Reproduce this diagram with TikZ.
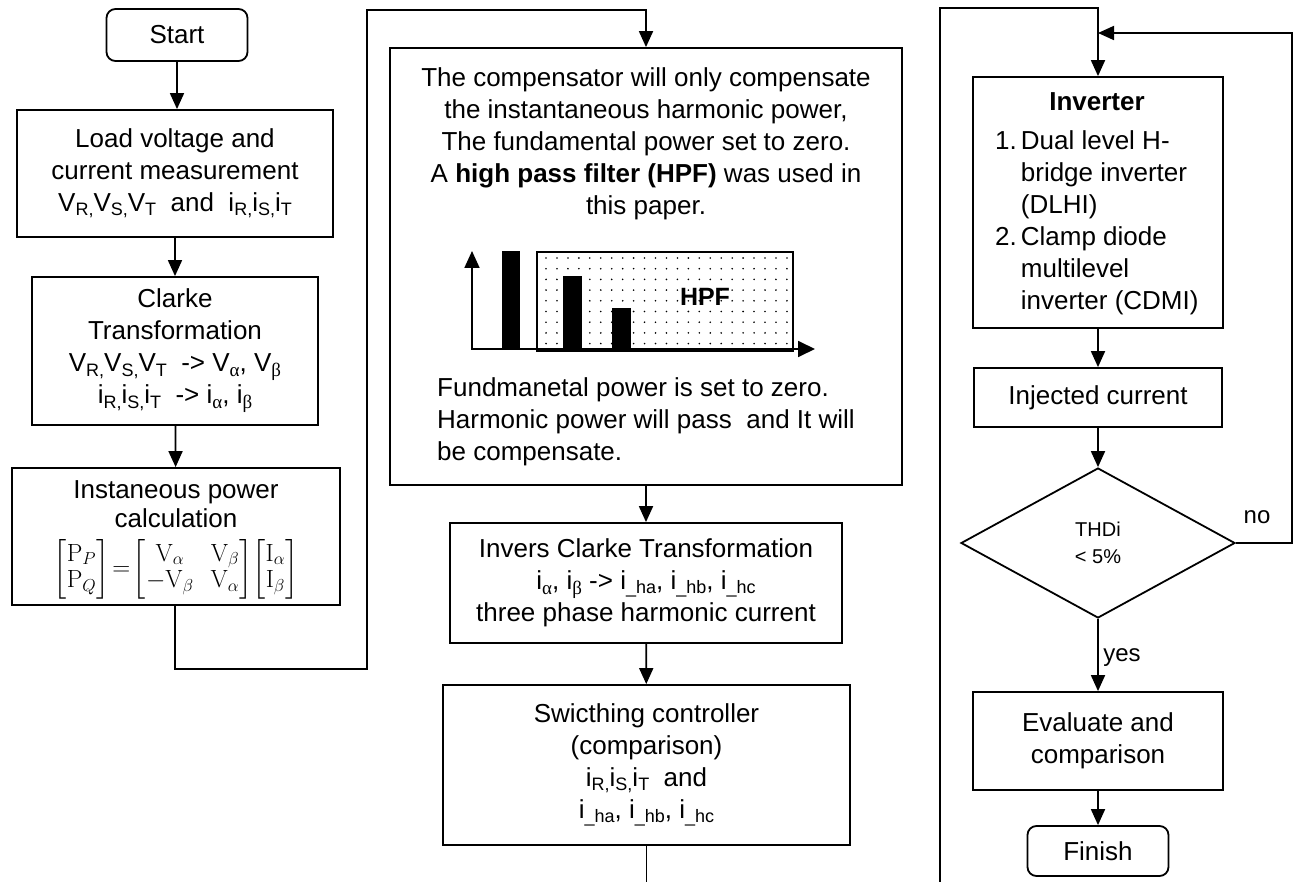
\RequirePackage{fix-cm}
\documentclass[tikz,border=0pt]{standalone}
\usepackage{amsmath}
\usepackage[no-math]{fontspec}
\setmainfont{Liberation Sans}
\newfontfamily\grk{Liberation Serif}
\usetikzlibrary{arrows.meta,shapes.geometric}
\newcommand{\lowr}[1]{\raisebox{-0.3ex}{\fontsize{18}{18}\selectfont #1}}
\newcommand{\gsub}[1]{\raisebox{-0.35ex}{\fontsize{19}{19}\selectfont\grk #1}}
\newcommand{\pqmatrix}{{\fontsize{20.74}{25}\selectfont\scalebox{1.2}{\setlength{\arraycolsep}{7pt}\renewcommand{\arraystretch}{0.88}$\begin{bmatrix}\mathrm{P}_{P}\\ \mathrm{P}_{Q}\end{bmatrix}\!=\!\begin{bmatrix}\mathrm{V}_{\alpha} & \mathrm{V}_{\beta}\\ -\mathrm{V}_{\beta} & \mathrm{V}_{\alpha}\end{bmatrix}\!\begin{bmatrix}\mathrm{I}_{\alpha}\\ \mathrm{I}_{\beta}\end{bmatrix}$}}}
\begin{document}
\begin{tikzpicture}[x=1pt,y=-1pt,
  box/.style={draw, line width=1.8pt, inner sep=0pt, align=center, font=\fontsize{26}{32}\selectfont},
  rbox/.style={box, rounded corners=9pt},
  conn/.style={draw, line width=1.8pt, -{Triangle[length=16pt,width=14pt]}},
  plainline/.style={draw, line width=1.8pt},
  txt/.style={inner sep=0pt, font=\fontsize{26}{32}\selectfont},
  lbl/.style={inner sep=0pt, font=\fontsize{24}{28}\selectfont}]
\useasboundingbox (0,0) rectangle (1299,882);
% left column
\node[rbox, minimum width=141, minimum height=52] (start) at (177,35) {Start};
\node[box, minimum width=316, minimum height=127] (load) at (175,173.5)
  {Load voltage and\\current measurement\\V\lowr{R,}V\lowr{S,}V\lowr{T}\ \ and\ \ i\lowr{R,}i\lowr{S,}i\lowr{T}};
\node[box, minimum width=286, minimum height=148] (clarke) at (175,351)
  {Clarke\\Transformation\\V\lowr{R,}V\lowr{S,}V\lowr{T}\ \ -> V\gsub{α}, V\gsub{β}\\i\lowr{R,}i\lowr{S,}i\lowr{T}\ \ -> i\gsub{α}, i\gsub{β}};
\node[box, minimum width=328, minimum height=137] (inst) at (176,536.5) {};
\node[inner sep=0pt, align=center, font=\fontsize{26}{29}\selectfont] (instt) at (176,540)
  {Instaneous power\\calculation\\[10pt]\pqmatrix};
\coordinate (c1) at (367,669);
\coordinate (c2) at (367,10);
% middle column
\node[box, minimum width=512, minimum height=437] (comp) at (646,266.5) {};
\node[txt, align=center] (ctop) at (646,144)
  {The compensator will only compensate\\the instantaneous harmonic power,\\The fundamental power set to zero.\\A \textbf{high pass filter (HPF)} was used in\\this paper.};
\node[txt, align=left, anchor=west] (cbot) at (437,422)
  {Fundmanetal power is set to zero.\\Harmonic power will pass\ \ and It will\\be compensate.};
% HPF chart
\fill[white] (537,252) rectangle (793,351);
\foreach \i in {0,...,22} {
  \foreach \j in {0,...,8} {
    \fill ({546+\i*10.95},{258+\j*10.7}) circle (0.9);
  }
}
\draw[line width=1.8pt] (537,252) rectangle (793,351);
\fill (502,251) rectangle (520,349);
\fill (563,276) rectangle (582,349);
\fill (612,308) rectangle (631,349);
\draw[line width=1.8pt, -{Triangle[length=17pt,width=15pt]}] (472,349) -- (472,251);
\draw[line width=1.8pt, -{Triangle[length=17pt,width=16pt]}] (471,349) -- (815,349);
\node[inner sep=0pt, font=\fontsize{25}{30}\selectfont\bfseries] (hpf) at (705,297) {HPF};
\node[box, minimum width=392, minimum height=120] (invc) at (646,583)
  {Invers Clarke Transformation\\i\gsub{α}, i\gsub{β} -> i\lowr{\_ha}, i\lowr{\_hb}, i\lowr{\_hc}\\three phase harmonic current};
\node[box, minimum width=407, minimum height=160] (sw) at (646.5,765)
  {Swicthing controller\\(comparison)\\i\lowr{R,}i\lowr{S,}i\lowr{T}\ \ and\\i\lowr{\_ha}, i\lowr{\_hb}, i\lowr{\_hc}};
\coordinate (c3) at (646.5,882);
% right column
\coordinate (c4) at (940,882);
\coordinate (c5) at (940,8);
\node[box, minimum width=250, minimum height=251] (inv) at (1098,202.5) {};
\node[txt] (invt) at (1097,102) {\textbf{Inverter}};
\node[txt, anchor=north west, align=left] (invl) at (995,127)
  {\begin{tabular}{@{}l@{\hspace{4pt}}l@{}}1. & Dual level H-\\ & bridge inverter\\ & (DLHI)\\ 2. & Clamp diode\\ & multilevel\\ & inverter (CDMI)\end{tabular}};
\node[box, minimum width=248, minimum height=59] (inj) at (1098,397.5) {Injected current};
\node[draw, diamond, line width=1.8pt, inner sep=0pt, minimum width=274, minimum height=150, align=center, font=\fontsize{20}{27}\selectfont] (dia) at (1098,543) {THDi\\< 5\%};
\node[box, minimum width=250, minimum height=98] (eval) at (1098,741) {Evaluate and\\comparison};
\node[rbox, minimum width=141, minimum height=50] (fin) at (1098,851) {Finish};
\coordinate (c7) at (1292,33);
\coordinate (j) at (1098,33);
\node[lbl] (no) at (1257,517) {no};
\node[lbl] (yes) at (1122,658) {yes};
% connectors
\draw[conn] (start.south) -- (start.south |- load.north);
\draw[conn] (load) -- (clarke);
\draw[conn] (clarke) -- (inst);
\draw[conn] (inst.south -| clarke.south) |- (c1) -- (c2) -| (comp.north);
\draw[conn] (comp) -- (invc);
\draw[conn] (invc) -- (sw);
\draw[plainline] (sw.south) -- (c3);
\draw[conn] (c4) -- (c5) -| (inv.north);
\draw[conn] (inv) -- (inj);
\draw[conn] (inj) -- (dia);
\draw[conn] (dia.east) -| (c7) -- (j);
\draw[conn] (dia.south) -- (eval.north);
\draw[conn] (eval) -- (fin);
\end{tikzpicture}
\end{document}
